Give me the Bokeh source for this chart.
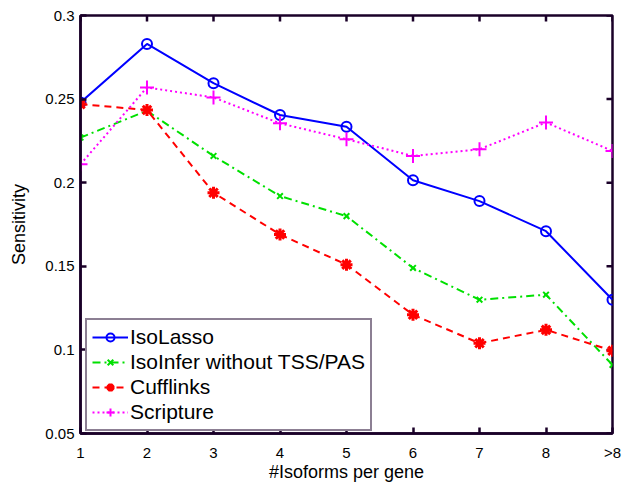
from bokeh.plotting import figure
from bokeh.models import FixedTicker, Range1d, Legend
from bokeh.embed import file_html
from bokeh.resources import INLINE

x_labels = ["1", "2", "3", "4", "5", "6", "7", "8", ">8"]
isolasso = [0.248, 0.283, 0.2595, 0.2405, 0.2335, 0.2015, 0.189, 0.171, 0.130]
isoinfer = [0.227, 0.243, 0.216, 0.192, 0.180, 0.149, 0.130, 0.133, 0.091]
cufflinks = [0.247, 0.2435, 0.194, 0.169, 0.151, 0.121, 0.104, 0.112, 0.0995]
scripture = [0.211, 0.257, 0.251, 0.2355, 0.226, 0.216, 0.220, 0.236, 0.219]
y_ticks = [0.05, 0.1, 0.15, 0.2, 0.25, 0.3]
y_tick_labels = ["0.05", "0.1", "0.15", "0.2", "0.25", "0.3"]

x = list(range(1, len(x_labels) + 1))
FONT = "Liberation Sans"
INK = "#1a0028"
Y_MIN, Y_MAX = y_ticks[0], y_ticks[-1]
X_MIN, X_MAX = x[0], x[-1]

p = figure(width=622, height=484, output_backend="svg", toolbar_location=None,
           x_range=Range1d(X_MIN, X_MAX), y_range=Range1d(Y_MIN, Y_MAX),
           min_border_left=80, min_border_top=15, min_border_right=10, min_border_bottom=51)
p.xgrid.visible = False
p.ygrid.visible = False
p.outline_line_color = INK
p.outline_line_width = 2.5

# inward ticks on the top and right edges (half of each dash is clipped by the frame)
p.scatter(x, [Y_MAX] * len(x), marker="dash", angle=1.5708, size=12, line_color=INK, line_width=2.5)
p.scatter([X_MAX] * len(y_ticks), y_ticks, marker="dash", size=12, line_color=INK, line_width=2.5)

r1 = p.line(x, isolasso, color="#0000ff", line_width=2)
s1 = p.scatter(x, isolasso, marker="circle", size=10, line_color="#0000ff", fill_color=None, line_width=2)
r2 = p.line(x, isoinfer, color="#00e000", line_width=2, line_dash="8 4 2 4")
s2 = p.scatter(x, isoinfer, marker="x", size=8, line_color="#00e000", line_width=2)
r3 = p.line(x, cufflinks, color="#ff0000", line_width=2, line_dash="7 5")
s3 = p.scatter(x, cufflinks, marker="asterisk", size=12, line_color="#ff0000", line_width=3)
r4 = p.line(x, scripture, color="#ff00ff", line_width=2, line_dash="2 3")
s4 = p.scatter(x, scripture, marker="cross", size=14, line_color="#ff00ff", line_width=2)

legend = Legend(items=[("IsoLasso", [r1, s1]), ("IsoInfer without TSS/PAS", [r2, s2]),
                       ("Cufflinks", [r3, s3]), ("Scripture", [r4, s4])],
                location=(5, 2), margin=0, padding=5, spacing=1,
                glyph_width=36, glyph_height=20, label_height=20, label_standoff=2,
                label_text_font=FONT, label_text_font_size="21px", label_text_color="#000000",
                border_line_color=INK, border_line_width=2.5, background_fill_alpha=1)
p.add_layout(legend, "center")

def style(ax):
    ax.major_tick_in = 6
    ax.major_tick_out = 0
    ax.minor_tick_line_color = None
    ax.axis_line_color = INK
    ax.major_tick_line_color = INK
    ax.axis_line_width = 2.5
    ax.major_tick_line_width = 2.5
    ax.major_label_text_font = FONT
    ax.major_label_text_font_size = "15px"
    ax.major_label_text_color = "#000000"
    ax.axis_label_text_font = FONT
    ax.axis_label_text_font_style = "normal"
    ax.axis_label_text_font_size = "18px"
    ax.axis_label_text_color = "#000000"

p.xaxis.ticker = FixedTicker(ticks=x)
p.xaxis.major_label_overrides = {xi: lab for xi, lab in zip(x, x_labels)}
p.xaxis.axis_label = "#Isoforms per gene"
p.xaxis.major_label_standoff = 10
p.xaxis.axis_label_standoff = -2
p.yaxis.ticker = FixedTicker(ticks=y_ticks)
p.yaxis.major_label_overrides = dict(zip(y_ticks, y_tick_labels))
p.yaxis.axis_label = "Sensitivity"
p.yaxis.major_label_standoff = 6
p.yaxis.axis_label_standoff = 13
style(p.xaxis[0])
style(p.yaxis[0])

open("out.html", "w").write(file_html(p, INLINE))
